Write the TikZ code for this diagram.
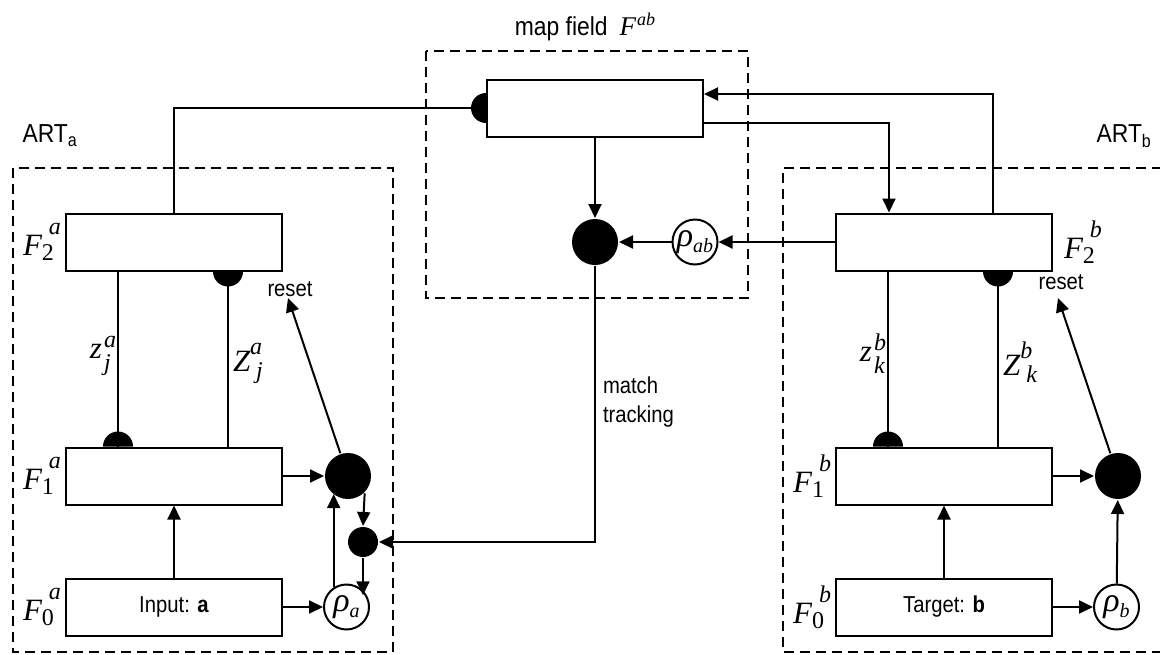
\documentclass[tikz,border=0pt]{standalone}
\usepackage{amsmath,amssymb}
\usepackage[no-math]{fontspec}
\setmainfont{Liberation Sans}[FakeStretch=0.88]
\newfontfamily\tnr{Liberation Serif}
\usepackage{tikz}
\usetikzlibrary{positioning,arrows.meta}
\newcommand{\lblsize}{\fontsize{23}{29}\selectfont}
\newcommand{\bigsize}{\fontsize{26}{31}\selectfont}
\newcommand{\symfont}{\tnr\itshape\fontsize{31}{34}\selectfont}
\newcommand{\scrfont}{\tnr\itshape\fontsize{24}{26}\selectfont}
\newcommand{\rhofont}{\tnr\itshape\fontsize{34}{36}\selectfont}
\newcommand{\rsubfont}{\tnr\itshape\fontsize{20}{22}\selectfont}
% layer and weight symbols, set as text in the serif italic
\newcommand{\Fsym}[2]{{\symfont F}\rlap{\raisebox{-5pt}{\scrfont\upshape #1}}\kern7pt\raisebox{21pt}{\scrfont #2}}
\newcommand{\Zsym}[2]{{\symfont Z}\rlap{\kern6pt\raisebox{-7pt}{\scrfont #1}}\raisebox{17pt}{\scrfont #2}}
\newcommand{\zsym}[2]{{\symfont z}\rlap{\kern2pt\raisebox{-12pt}{\scrfont #1}}\kern2pt\raisebox{11pt}{\scrfont #2}}
\newcommand{\rhosym}[1]{\makebox[0pt]{{\rhofont ρ}\raisebox{-6pt}{\rsubfont #1}}}
% half discs on the ends of the weight lines
\newcommand{\halfup}[1]{\fill (#1) ++(-15,0) arc[start angle=180, end angle=360, radius=15] -- cycle;}
\newcommand{\halfdown}[1]{\fill (#1) ++(-15,0) arc[start angle=180, end angle=0, radius=15] -- cycle;}
\newcommand{\halfleft}[1]{\fill (#1) ++(0,-15) arc[start angle=270, end angle=90, radius=15] -- cycle;}

\begin{document}
\begin{tikzpicture}[x=1pt, y=-1pt, line width=2pt,
        layer/.style={rectangle, draw, minimum width=216pt, minimum height=57pt, inner sep=0pt, font=\lblsize},
        ordot/.style={circle, fill, minimum size=46pt, inner sep=0pt},
        smdot/.style={circle, fill, minimum size=30pt, inner sep=0pt},
        vig/.style={circle, draw, minimum size=45pt, inner sep=0pt},
        region/.style={draw, dash pattern=on 10pt off 6pt},
        fsym/.style={inner sep=0pt},
        txt/.style={inner sep=0pt, font=\lblsize},
        arrow/.style={draw, -{Triangle[length=14pt, width=13pt]}}
    ]
        \useasboundingbox (0,0) rectangle (1160,654);

        % dashed regions
        \draw [region] (13,168) rectangle (393,652);
        \draw [region] (426,51) rectangle (748,298);
        \draw [region] (1162,168) -- (783,168) -- (783,652) -- (1162,652);

        % ART_a side
        \node [layer] (F2a) at (174,242) {};
        \node [layer, below=175pt of F2a] (F1a) {};
        \node [layer, below=72pt of F1a] (F0a) {Input: \textbf{a}};
        \node [ordot, right=41pt of F1a] (orA) {};
        \node [vig, right=40pt of F0a] (rhoA) {\rhosym{a}};
        \node [smdot] (rstdotA) at (363,542) {};

        \node [fsym, left=3pt of F2a] (lF2a) {\Fsym{2}{a}};
        \node [fsym, left=3pt of F1a] (lF1a) {\Fsym{1}{a}};
        \node [fsym, left=3pt of F0a] (lF0a) {\Fsym{0}{a}};
        \node [txt, font=\bigsize] (artA) at (50,136) {ART\textsubscript{a}};
        \node [fsym, anchor=east] (zja) at (117,356) {\zsym{j}{a}};
        \node [fsym, anchor=west] (Zja) at (232,363) {\Zsym{j}{a}};
        \node [txt] (rstA) at (290,289) {reset};

        % map field
        \node [layer] (mapF) at (595,108) {};
        \node [ordot] (mapdot) at (595,242) {};
        \node [vig] (rhoab) at (695,242) {\rhosym{ab}};
        \node [txt, font=\bigsize] (mapttl) at (585,27) {map field\hspace{12pt}{\tnr\itshape\fontsize{27}{30}\selectfont F}\kern1pt\raisebox{10pt}{\tnr\itshape\fontsize{18}{20}\selectfont ab}};
        \node [txt, align=left, anchor=north west] (mtrk) at (602,376) {match\\tracking};

        % ART_b side
        \node [layer] (F2b) at (944,242) {};
        \node [layer, below=175pt of F2b] (F1b) {};
        \node [layer, below=72pt of F1b] (F0b) {Target: \textbf{b}};
        \node [ordot, right=41pt of F1b] (orB) {};
        \node [vig, right=40pt of F0b] (rhoB) {\rhosym{b}};

        \node [fsym, right=10pt of F2b] (lF2b) {\Fsym{2}{b}};
        \node [fsym, left=3pt of F1b] (lF1b) {\Fsym{1}{b}};
        \node [fsym, left=3pt of F0b] (lF0b) {\Fsym{0}{b}};
        \node [txt, font=\bigsize] (artB) at (1124,136) {ART\textsubscript{b}};
        \node [fsym, anchor=east] (zkb) at (887,354) {\zsym{k}{b}};
        \node [fsym, anchor=west] (Zkb) at (1002,362) {\Zsym{k}{b}};
        \node [txt] (rstB) at (1061,282) {reset};

        \coordinate (zaL) at (118,0);
        \coordinate (ZaL) at (228,0);
        \coordinate (zbL) at (888,0);
        \coordinate (ZbL) at (998,0);
        \coordinate (upR) at (993,94);
        \coordinate (dnR) at (889,123);
        \coordinate (tipA) at (288,298);
        \coordinate (tipB) at (1058,298);

        % weights between F1 and F2
        \draw (F2a.south -| zaL) -- (F1a.north -| zaL);
        \halfup{F1a.north -| zaL}
        \draw (F2a.south -| ZaL) -- (F1a.north -| ZaL);
        \halfdown{F2a.south -| ZaL}
        \draw (F2b.south -| zbL) -- (F1b.north -| zbL);
        \halfup{F1b.north -| zbL}
        \draw (F2b.south -| ZbL) -- (F1b.north -| ZbL);
        \halfdown{F2b.south -| ZbL}

        % ART_a links
        \draw [arrow] (F0a) -- (F1a);
        \draw [arrow] (F1a) -- (orA);
        \draw [arrow] (F0a) -- (rhoA);
        \draw [arrow] (rhoA.123) -- (rhoA.123 |- orA.229);
        \draw [arrow] (orA.-46) -- (rstdotA.north);
        \draw [arrow] (rstdotA) -- (rstdotA |- rhoA.30);
        \draw [arrow] (orA) -- (tipA);

        % ART_b links
        \draw [arrow] (F0b) -- (F1b);
        \draw [arrow] (F1b) -- (orB);
        \draw [arrow] (F0b) -- (rhoB);
        \draw [arrow] (rhoB) -- (orB);
        \draw [arrow] (orB) -- (tipB);

        % map field links
        \draw (F2a.north) |- ([xshift=-15pt]mapF.west);
        \halfleft{mapF.west}
        \draw [arrow] (F2b.north -| upR) |- (mapF.east |- upR);
        \draw [arrow] (mapF.east |- dnR) -| (F2b.north -| dnR);
        \draw [arrow] (mapF) -- (mapdot);
        \draw [arrow] (F2b) -- (rhoab);
        \draw [arrow] (rhoab) -- (mapdot);
        \draw [arrow] (mapdot) |- (rstdotA);
    \end{tikzpicture}
\end{document}
